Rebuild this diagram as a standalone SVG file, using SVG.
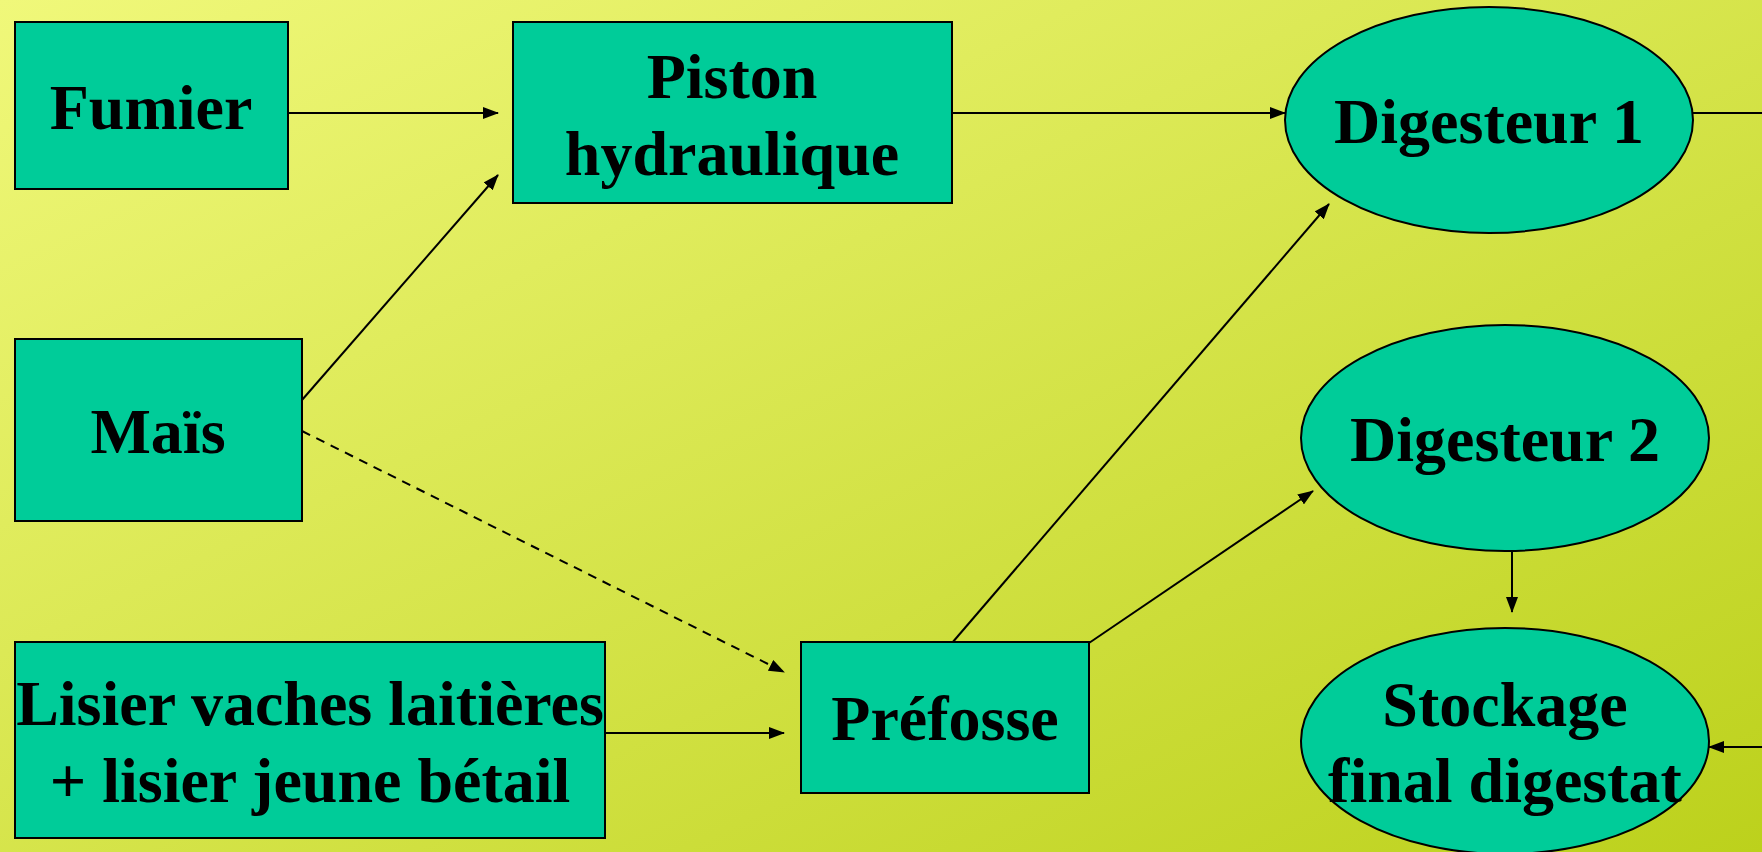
<svg xmlns="http://www.w3.org/2000/svg" width="1762" height="852" viewBox="0 0 1762 852">
<style>
.n{fill:#00CC99;stroke:#000;stroke-width:2}
.t{font-family:"Liberation Serif","Times New Roman",serif;font-weight:bold;font-size:64px;text-anchor:middle;fill:#000}
.c{stroke:#000;stroke-width:2;fill:none}
.d{stroke-dasharray:9,7}
</style>
<defs>
<linearGradient id="bg" x1="0" y1="0" x2="1" y2="1">
<stop offset="0" stop-color="#F0F87A"/>
<stop offset="1" stop-color="#BCD11C"/>
</linearGradient>
<marker id="a" markerWidth="16" markerHeight="12" refX="15" refY="6" orient="auto" markerUnits="userSpaceOnUse">
<path d="M0,0 L16,6 L0,12 Z" fill="#000"/>
</marker>
</defs>
<rect width="1762" height="852" fill="url(#bg)"/>
<g id="connectors">
<line class="c" x1="288" y1="113" x2="498" y2="113" marker-end="url(#a)"/>
<line class="c" x1="302" y1="400" x2="498" y2="175" marker-end="url(#a)"/>
<line class="c d" x1="302" y1="431" x2="784" y2="672" marker-end="url(#a)"/>
<line class="c" x1="605" y1="733" x2="784" y2="733" marker-end="url(#a)"/>
<line class="c" x1="952" y1="113" x2="1285" y2="113" marker-end="url(#a)"/>
<line class="c" x1="952" y1="643" x2="1329" y2="204" marker-end="url(#a)"/>
<line class="c" x1="1089" y1="643" x2="1313" y2="491" marker-end="url(#a)"/>
<line class="c" x1="1512" y1="552" x2="1512" y2="612" marker-end="url(#a)"/>
<line class="c" x1="1693" y1="113" x2="1762" y2="113"/>
<line class="c" x1="1762" y1="747" x2="1709" y2="747" marker-end="url(#a)"/>
</g>
<g id="fumier">
<rect class="n" x="15" y="22" width="273" height="167"/>
<text class="t" x="151" y="129">Fumier</text>
</g>
<g id="piston">
<rect class="n" x="513" y="22" width="439" height="181"/>
<text class="t" x="732" y="98">Piston</text>
<text class="t" x="732" y="175">hydraulique</text>
</g>
<g id="digesteur1">
<ellipse class="n" cx="1489" cy="120" rx="204" ry="113"/>
<text class="t" x="1489" y="143">Digesteur 1</text>
</g>
<g id="mais">
<rect class="n" x="15" y="339" width="287" height="182"/>
<text class="t" x="158" y="453">Maïs</text>
</g>
<g id="digesteur2">
<ellipse class="n" cx="1505" cy="438" rx="204" ry="113"/>
<text class="t" x="1505" y="461">Digesteur 2</text>
</g>
<g id="lisier">
<rect class="n" x="15" y="642" width="590" height="196"/>
<text class="t" x="310" y="725">Lisier vaches laitières</text>
<text class="t" x="310" y="802">+ lisier jeune bétail</text>
</g>
<g id="prefosse">
<rect class="n" x="801" y="642" width="288" height="151"/>
<text class="t" x="945" y="740">Préfosse</text>
</g>
<g id="stockage">
<ellipse class="n" cx="1505" cy="741" rx="204" ry="113"/>
<text class="t" x="1505" y="726">Stockage</text>
<text class="t" x="1505" y="802">final digestat</text>
</g>
</svg>
